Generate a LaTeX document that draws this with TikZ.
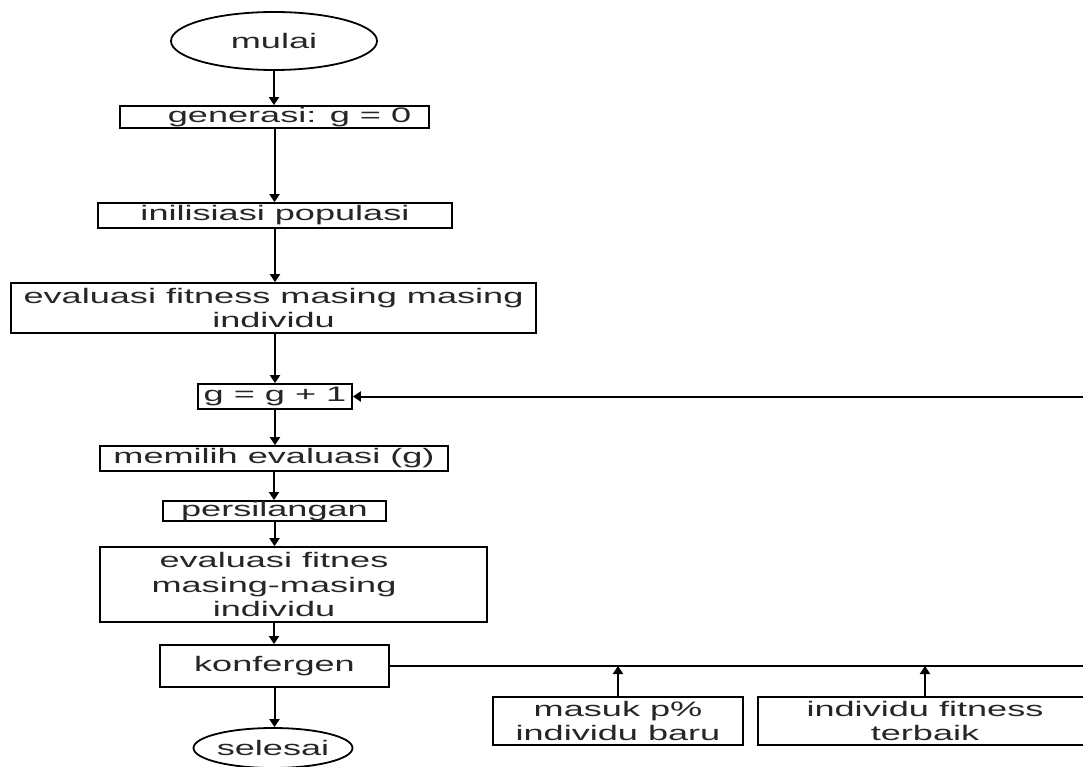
\documentclass[tikz,border=0pt]{standalone}
\usepackage{fontspec}
\newfontfamily\dfont[FakeStretch=1.72]{Liberation Sans}
\usetikzlibrary{shapes.geometric,arrows.meta}
\begin{document}
\begin{tikzpicture}[x=1pt,y=-1pt,
  every node/.style={font={\fontsize{21}{24.5}\dfont}, text=black!85, inner sep=0pt, align=center},
  box/.style={draw, rectangle, line width=1.8pt},
  term/.style={draw, ellipse, line width=1.8pt},
  arr/.style={line width=2pt, -{Triangle[length=8pt,width=10pt]}}]
\useasboundingbox (0,0) rectangle (1083,767);
\fill[white] (0,0) rectangle (1083,767);

\node[term, minimum width=206pt, minimum height=58pt] (mulai) at (274,41) {mulai};
\node[box, minimum width=309pt, minimum height=22pt] (gen) at (274.5,117) {\hspace*{30pt}generasi: g = 0};
\node[box, minimum width=354pt, minimum height=25pt] (init) at (275,215.5) {inilisiasi populasi};
\node[box, minimum width=525pt, minimum height=50pt] (eval1) at (273.5,308) {evaluasi fitness masing masing\\individu};
\node[box, minimum width=154pt, minimum height=25pt] (gbox) at (275,396.5) {g = g + 1};
\node[box, minimum width=348pt, minimum height=25pt] (pilih) at (274,458.5) {memilih evaluasi (g)};
\node[box, minimum width=223pt, minimum height=20pt] (silang) at (274.5,511) {persilangan};
\node[box, minimum width=387pt, minimum height=75pt] (eval2) at (293.5,584.5) {};
\node (eval2t) at (274,584.5) {evaluasi fitnes\\masing-masing\\individu};
\node[box, minimum width=229pt, minimum height=42pt] (konf) at (274.5,666) {konfergen};
\node[term, minimum width=140pt, minimum height=40pt] (selesai) at (273,748) {selesai};
\node[box, minimum width=250pt, minimum height=48pt] (masuk) at (618,721) {masuk p\%\\individu baru};
\node[box, minimum width=334pt, minimum height=48pt] (terbaik) at (925,721) {individu fitness\\terbaik};

\coordinate (rb) at (1095,665);

\draw[arr] (mulai.south) -- (mulai.south |- gen.north);
\draw[arr] (gen.south) -- (gen.south |- init.north);
\draw[arr] (init.south) -- (init.south |- eval1.north);
\draw[arr] (init.south |- eval1.south) -- (init.south |- gbox.north);
\draw[arr] (gbox.south) -- (gbox.south |- pilih.north);
\draw[arr] (pilih.south) -- (pilih.south |- silang.north);
\draw[arr] (silang.south) -- (silang.south |- eval2.north);
\draw[arr] (eval2t |- eval2.south) -- (eval2t |- konf.north);
\draw[arr] (konf.south) -- (konf.south |- selesai.north);
\draw[arr] (konf.east) -- (rb |- konf.east) -- (rb |- gbox.east) -- (gbox.east);
\draw[arr] (masuk.north) -- (masuk.north |- konf.east);
\draw[arr] (terbaik.north) -- (terbaik.north |- konf.east);
\end{tikzpicture}
\end{document}
